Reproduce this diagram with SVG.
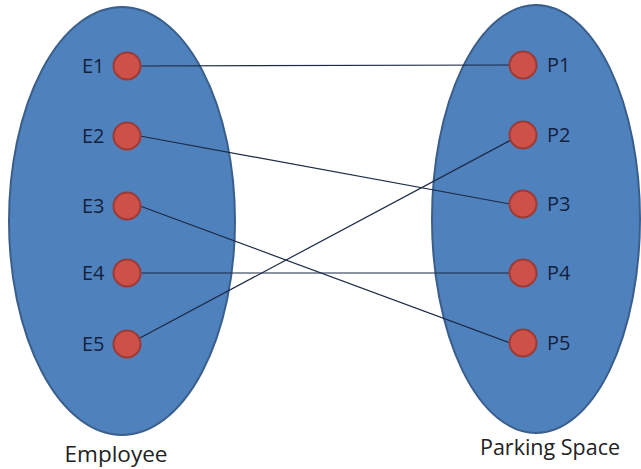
<svg xmlns="http://www.w3.org/2000/svg" width="641" height="469" viewBox="0 0 641 469">
<style>
.set{fill:#4f81bd;stroke:#3a5f8c;stroke-width:2}
.dot{fill:#cd5049;stroke:#9c3b36;stroke-width:2}
.lbl{font-family:"Open Sans","Liberation Sans",sans-serif;font-size:20px;fill:#14213d}
.cap{font-family:"Open Sans","Liberation Sans",sans-serif;font-size:22px;fill:#222}
.conn line{stroke:#1c2a45;stroke-width:1.2}
</style>
<rect width="641" height="469" fill="#fff"/>
<g id="employee">
<ellipse class="set" cx="122" cy="221" rx="113" ry="214"/>
<text class="cap" x="116" y="462" text-anchor="middle" textLength="103" lengthAdjust="spacingAndGlyphs">Employee</text>
</g>
<g id="parking">
<ellipse class="set" cx="536" cy="219" rx="104" ry="214"/>
<text class="cap" x="550" y="455" text-anchor="middle" textLength="140" lengthAdjust="spacingAndGlyphs">Parking Space</text>
</g>
<g id="connectors" class="conn">
<line x1="140" y1="66" x2="510" y2="65"/>
<line x1="140" y1="136" x2="510" y2="204"/>
<line x1="140" y1="206" x2="510" y2="343"/>
<line x1="140" y1="273" x2="510" y2="273"/>
<line x1="138" y1="339" x2="511" y2="140"/>
</g>
<g id="E1"><circle class="dot" cx="127" cy="66" r="13.5"/><text class="lbl" x="82" y="73">E1</text></g>
<g id="E2"><circle class="dot" cx="127" cy="136" r="13.5"/><text class="lbl" x="82" y="143">E2</text></g>
<g id="E3"><circle class="dot" cx="127" cy="206" r="13.5"/><text class="lbl" x="82" y="213">E3</text></g>
<g id="E4"><circle class="dot" cx="127" cy="273" r="13.5"/><text class="lbl" x="82" y="280">E4</text></g>
<g id="E5"><circle class="dot" cx="127" cy="344" r="13.5"/><text class="lbl" x="82" y="351">E5</text></g>
<g id="P1"><circle class="dot" cx="523" cy="65" r="13.5"/><text class="lbl" x="547" y="72">P1</text></g>
<g id="P2"><circle class="dot" cx="523" cy="135" r="13.5"/><text class="lbl" x="547" y="142">P2</text></g>
<g id="P3"><circle class="dot" cx="523" cy="204" r="13.5"/><text class="lbl" x="547" y="211">P3</text></g>
<g id="P4"><circle class="dot" cx="523" cy="273" r="13.5"/><text class="lbl" x="547" y="280">P4</text></g>
<g id="P5"><circle class="dot" cx="523" cy="343" r="13.5"/><text class="lbl" x="547" y="350">P5</text></g>
</svg>
